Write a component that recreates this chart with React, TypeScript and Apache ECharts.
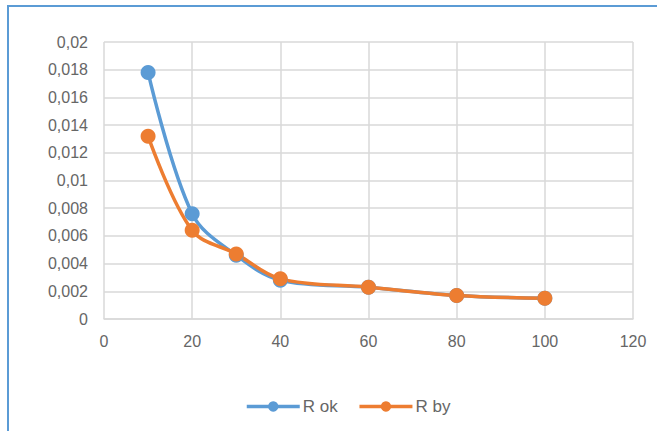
import React, { useEffect, useRef } from "react";
import * as echarts from "echarts";

const xValues = [10, 20, 30, 40, 60, 80, 100];
const rOk = [0.0178, 0.0076, 0.0046, 0.0028, 0.0023, 0.0017, 0.0015];
const rBy = [0.0132, 0.0064, 0.0047, 0.0029, 0.0023, 0.0017, 0.0015];
const seriesNames = ["R ok", "R by"];

const FONT = "'Liberation Sans', Arial, sans-serif";
const LABEL = "#666666";

export default function App() {
  const ref = useRef<HTMLDivElement>(null);
  useEffect(() => {
    if (!ref.current) return;
    const chart = echarts.init(ref.current, undefined, { renderer: "svg" });
    const fmt = (v: number) => String(parseFloat(v.toFixed(4))).replace(".", ",");
    chart.setOption({
      animation: false,
      backgroundColor: "#fff",
      textStyle: { fontFamily: FONT },
      graphic: [
        {
          type: "rect",
          shape: { x: 8, y: 6, width: 700, height: 500 },
          style: { fill: "none", stroke: "#5B9BD5", lineWidth: 2 },
          silent: true,
        },
      ],
      grid: { left: 104, right: 24, top: 42, bottom: 112 },
      legend: {
        top: 393,
        left: 240,
        itemWidth: 53,
        itemHeight: 13,
        itemGap: 20,
        lineStyle: { width: 3.5 },
        textStyle: { fontFamily: FONT, fontSize: 17, color: LABEL, padding: [0, 0, 0, -2] },
        data: seriesNames,
      },
      xAxis: {
        type: "value",
        min: 0,
        max: 120,
        interval: 20,
        axisLine: { show: true, lineStyle: { color: "#d9d9d9", width: 1.5 } },
        axisTick: { show: false },
        splitLine: { show: true, lineStyle: { color: "#d9d9d9", width: 1.5 } },
        axisLabel: { fontFamily: FONT, fontSize: 16, color: LABEL, margin: 14 },
      },
      yAxis: {
        type: "value",
        min: 0,
        max: 0.02,
        interval: 0.002,
        axisLine: { show: false },
        axisTick: { show: false },
        splitLine: { show: true, lineStyle: { color: "#d9d9d9", width: 1.5 } },
        axisLabel: { fontFamily: FONT, fontSize: 16, color: LABEL, margin: 16, formatter: fmt },
      },
      series: [
        {
          name: seriesNames[0],
          type: "line",
          data: xValues.map((x, i) => [x, rOk[i]]),
          smooth: 0.35,
          symbol: "circle",
          symbolSize: 15,
          lineStyle: { color: "#5B9BD5", width: 3.5 },
          itemStyle: { color: "#5B9BD5" },
        },
        {
          name: seriesNames[1],
          type: "line",
          data: xValues.map((x, i) => [x, rBy[i]]),
          smooth: 0.35,
          symbol: "circle",
          symbolSize: 15,
          lineStyle: { color: "#ED7D31", width: 3.5 },
          itemStyle: { color: "#ED7D31" },
        },
      ],
    });
    return () => chart.dispose();
  }, []);
  return (
    <div style={{ position: "absolute", left: 0, top: 0, width: 657, height: 431 }}>
      <div ref={ref} style={{ width: 657, height: 431 }} />
    </div>
  );
}
